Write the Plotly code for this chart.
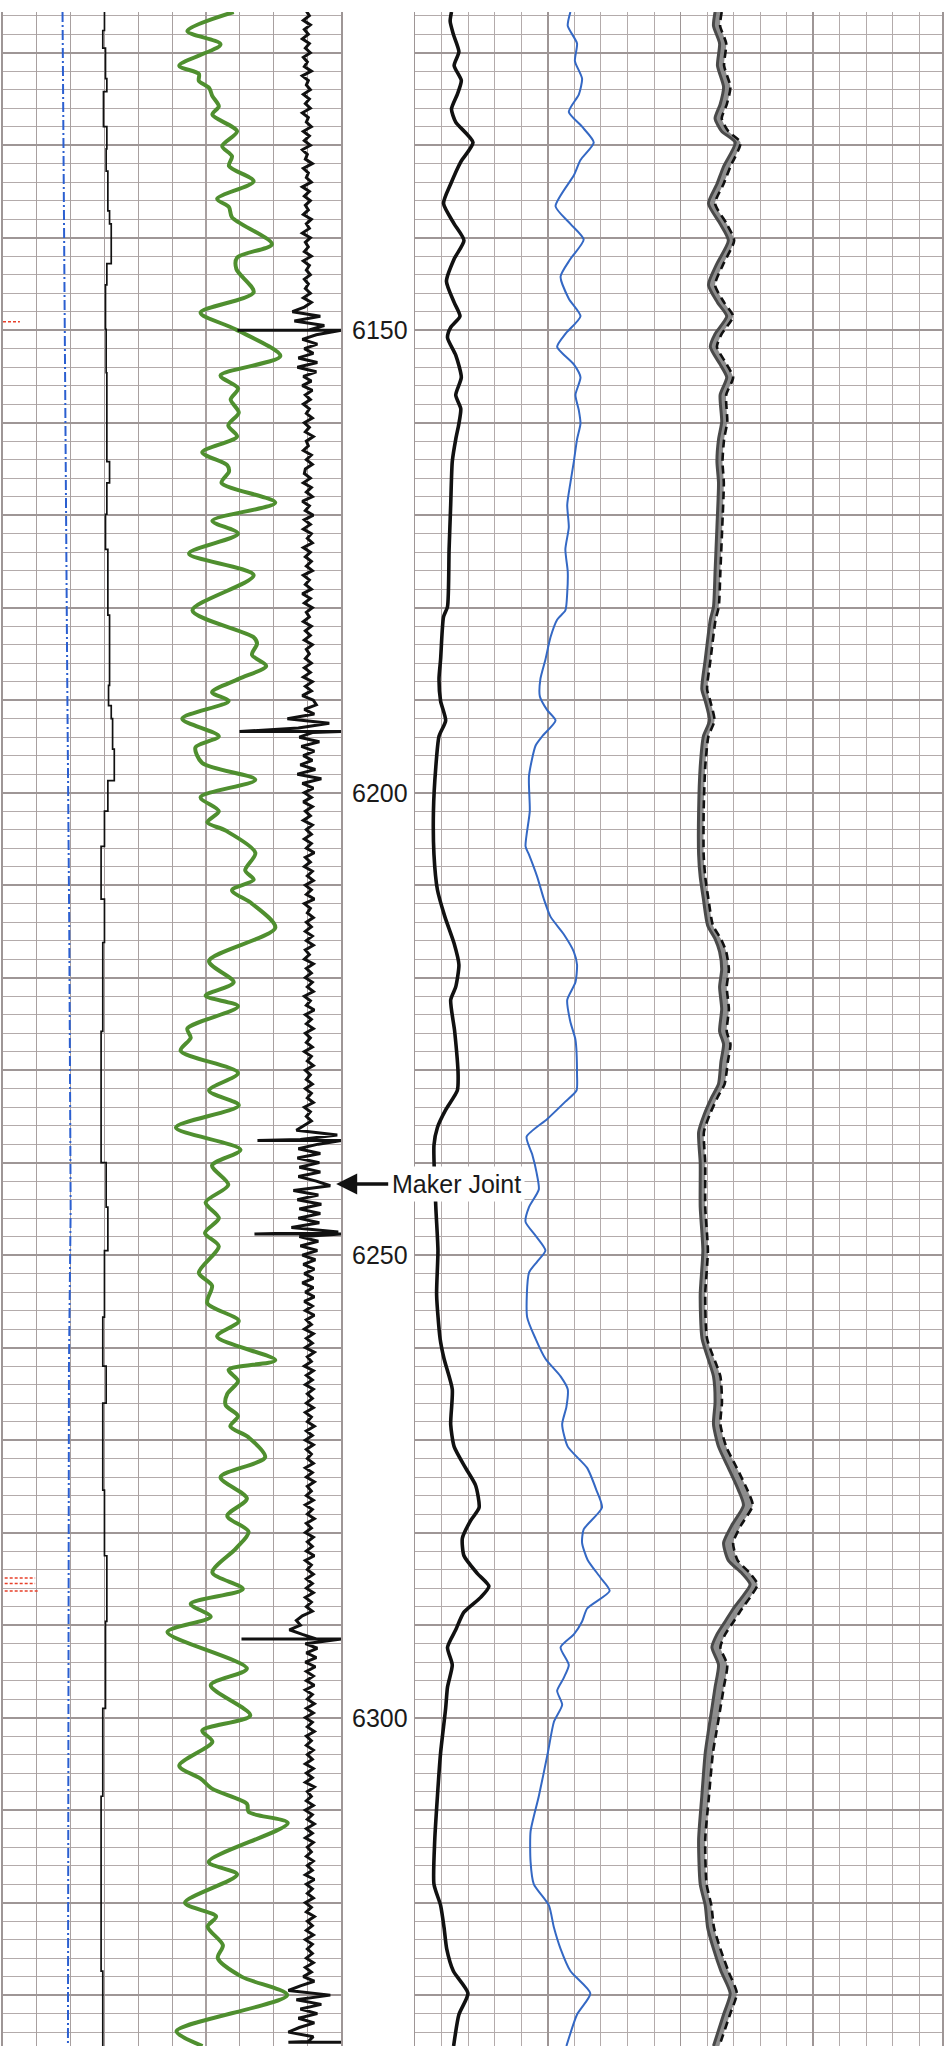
import plotly.graph_objects as go

# ---------------- depth labels ----------------
depth_labels = [6150, 6200, 6250, 6300]

# ---------------- left track (divisions 0-10) ----------------
# blue dash-dot curve
bdd_depth = [6115.6, 6140, 6160, 6188, 6215, 6245, 6262, 6300, 6335.5]
bdd_value = [1.76, 1.80, 1.84, 1.90, 1.96, 2.00, 1.95, 1.93, 1.92]

# thin black stepped curve
thin_depth = [6115.6, 6117.6, 6119.5, 6122.8, 6124.2, 6128.0, 6130.4, 6132.8, 6137.1, 6138.5,
              6142.8, 6145.1, 6149.9, 6154.6, 6164.2, 6166.5, 6169.9, 6173.7, 6180.8, 6188.4,
              6190.6, 6192.0, 6195.3, 6198.7, 6202.0, 6205.8, 6211.5, 6216.2, 6221.0, 6225.8,
              6235.3, 6240.0, 6244.8, 6249.5, 6256.7, 6262.0, 6266.0, 6275.4, 6282.5, 6289.6,
              6299.0, 6308.5, 6318.0, 6327.4, 6335.5]
thin_value = [3.00, 2.95, 3.03, 3.07, 2.97, 3.07, 3.05, 3.10, 3.15, 3.20,
              3.07, 3.03, 3.05, 3.07, 3.15, 3.07, 3.03, 3.10, 3.15, 3.12,
              3.20, 3.24, 3.29, 3.10, 3.00, 2.90, 3.00, 2.95, 2.95, 2.90,
              2.90, 3.05, 3.10, 3.00, 2.95, 3.05, 2.95, 3.00, 3.07, 3.03,
              2.95, 2.90, 2.90, 2.95, 2.96]

# green curve
gr_depth = [6115.6, 6117.65, 6119.1, 6121.4, 6122.3, 6123.05, 6123.8, 6124.7, 6125.8, 6126.7,
            6128.5, 6130.1, 6131.2, 6132.25, 6133.9, 6135.8, 6136.7, 6137.8, 6140.7, 6142.15,
            6143.4, 6145.9, 6148.1, 6149.9, 6152.8, 6154.9, 6156.3, 6157.5, 6158.9, 6160.3,
            6161.5, 6163.2, 6164.6, 6165.3, 6166.5, 6168.65, 6170.6, 6172.0, 6174.15, 6176.5,
            6180.3, 6183.2, 6183.9, 6185.1, 6186.3, 6187.7, 6189.15, 6190.1, 6192.0, 6193.9,
            6195.1, 6196.8, 6198.6, 6200.5, 6202.0, 6203.2, 6204.1, 6206.5, 6208.4, 6209.4,
            6210.55, 6212.0, 6214.6, 6218.2, 6220.5, 6221.95, 6223.1, 6225.5, 6226.5, 6227.9,
            6230.3, 6232.2, 6233.8, 6236.2, 6238.6, 6240.3, 6242.4, 6244.3, 6246.0, 6247.6,
            6249.05, 6251.9, 6253.3, 6255.2, 6257.1, 6258.8, 6261.35, 6262.4, 6263.6, 6265.0,
            6266.2, 6267.4, 6268.5, 6269.7, 6271.85, 6274.0, 6276.3, 6278.2, 6279.9, 6281.7,
            6284.3, 6286.1, 6287.7, 6289.1, 6290.75, 6294.7, 6296.5, 6299.75, 6301.4, 6302.6,
            6305.2, 6306.6, 6307.7, 6309.3, 6310.2, 6311.4, 6315.6, 6316.95, 6320.0, 6321.5,
            6322.6, 6324.6, 6326.0, 6328.0, 6330.0, 6333.9, 6335.5]
gr_value = [6.82, 5.45, 6.43, 5.21, 5.79, 5.79, 6.09, 6.19, 6.38, 6.19,
            6.92, 6.48, 6.77, 6.68, 7.41, 6.33, 6.68, 6.77, 7.95, 6.92,
            6.90, 7.41, 5.84, 6.87, 8.20, 6.43, 6.95, 6.73, 6.97, 6.66,
            6.92, 5.89, 6.63, 6.68, 6.46, 8.05, 6.19, 6.95, 5.50, 7.41,
            5.60, 7.41, 7.51, 7.36, 7.78, 6.97, 6.18, 6.67, 5.30, 6.38,
            5.69, 5.89, 7.46, 5.84, 6.38, 6.04, 6.58, 7.46, 7.16, 7.41,
            6.77, 7.36, 8.05, 6.09, 6.82, 5.99, 6.95, 5.45, 5.55, 5.25,
            6.95, 6.09, 6.97, 5.11, 7.02, 6.18, 6.66, 5.99, 6.38, 5.97,
            6.38, 5.79, 6.18, 6.04, 6.97, 6.33, 8.05, 6.67, 6.95, 6.63,
            6.58, 6.95, 6.72, 7.26, 7.75, 6.43, 7.21, 6.63, 7.26, 6.89,
            6.19, 7.09, 5.55, 6.14, 4.86, 7.21, 6.14, 7.31, 5.89, 6.19,
            5.21, 5.84, 6.19, 7.21, 7.26, 8.42, 6.08, 6.92, 5.38, 6.30,
            6.05, 6.50, 6.35, 7.05, 8.40, 5.13, 5.90]

# CCL readings (mV), every 0.5 ft from 6115.5 ft, one row per 10 ft
ccl_top = 6115.5
ccl_step = 0.5
ccl_rows = [
    [-2, 1, -5, 2, -4, 0, -6, 1, -3, 2, -5, -1, -4, 3, -6, 0, -2, 2, -5, 1],
    [-3, 2, -6, 0, -2, 3, -5, 1, -4, 2, -6, -1, -3, 4, -5, 0, -2, 3, -6, 1],
    [-4, 2, -3, 0, -5, 3, -2, 1, -6, 2, -3, 0, -4, 3, -5, 1, -2, 2, -4, 0],
    [-3, 2, -5, 3, -4, -16, 12, -14, 16, 0, 8, -6, 9, -4, 5, -10, 9, -11, 8, -5],
    [3, -6, 4, -3, 2, -5, 1, -2, 4, -4, 1, -3, 5, -2, 0, -5, 3, -2, 4, -3],
    [-4, 2, -5, 3, -2, 4, -6, 1, -3, 5, -4, 2, -5, 3, -1, 4, -5, 2, -3, 3],
    [-2, 4, -5, 1, -3, 3, -6, 2, -4, 4, -2, 1, -5, 3, -3, 2, -4, 4, -2, 1],
    [-3, 3, -4, 2, -5, 4, -3, 3, -6, 5, 8, -4, 6, -21, 21, -10, 4, -9, 11, -7],
    [6, -5, 4, -8, 7, -11, 13, -6, 5, -4, 3, -5, 4, -3, 2, -5, 4, -2, 3, -4],
    [3, -2, 6, -3, 2, -4, 4, -1, 5, -3, 3, -2, 6, -4, 2, -1, 5, -2, 3, -3],
    [4, -2, 5, -3, 1, -4, 5, -2, 3, -3, 4, -1, 5, -4, 2, -2, 6, -3, 3, -2],
    [5, -3, 2, -2, 4, -4, 3, -1, 5, -3, 2, -2, 4, -3, 3, -1, 5, -4, 2, -2],
    [3, -4, -12, 29, -8, 10, -10, 12, -11, 11, -9, 12, -10, 8, 22, -15, 10, -11, 13, -9],
    [12, -10, 11, -17, 30, -9, 10, -8, 9, -6, 7, -5, 6, -4, 5, -6, 5, -3, 6, -4],
    [4, -3, 6, -2, 3, -4, 5, -2, 4, -3, 6, -1, 3, -4, 5, -2, 4, -3, 5, -1],
    [4, -2, 5, -3, 3, -1, 6, -2, 4, -3, 5, -2, 3, -1, 5, -3, 4, -2, 6, -1],
    [3, -2, 5, -3, 4, -1, 6, -2, 3, -3, 5, -1, 4, -2, 6, -3, 3, -1, 5, -2],
    [4, -2, 5, -3, 3, -2, 4, -6, -12, -8, -19, -6, 8, -3, 9, -2, 8, -3, 7, -2],
    [5, -2, 6, -3, 4, -1, 6, -2, 5, -3, 4, -1, 6, -2, 3, -2, 5, -1, 4, -3],
    [5, -2, 4, -3, 6, -1, 3, -2, 5, -3, 4, -1, 6, -2, 4, -3, 5, -1, 3, -2],
    [5, -1, 4, -3, 6, -2, 4, -1, 5, -3, 3, -2, 6, -1, 4, -2, 5, -3, 4, -1],
    [4, -2, 5, -3, 3, -5, 6, -8, -20, 22, -12, 13, -8, 9, -10, 6, -9, -20, 5, 0],
]
# collar kicks
collar_depth = [6150.0, 6193.4, 6237.6, 6247.7, 6291.5, 6335.1]
collar_left = [-71, -69, -51, -54, -67, -20]
collar_right = [33, 33, 33, 33, 33, 33]

# red markers
red_depth = [6149.1, 6284.9, 6285.5, 6286.3]
red_from = [0.0, 0.05, 0.05, 0.05]
red_to = [0.5, 0.95, 0.95, 1.05]

# ---------------- right track (divisions) ----------------
rb_depth = [6115.6, 6116.6, 6118.0, 6119.9, 6121.4, 6123.0, 6124.5, 6126.1, 6127.5, 6129.7,
            6131.8, 6134.2, 6136.3, 6138.5, 6140.3, 6142.3, 6144.7, 6147.0, 6148.5, 6149.7,
            6150.8, 6152.7, 6155.1, 6157.0, 6158.5, 6160.1, 6161.8, 6164.2, 6168.9, 6173.7,
            6179.9, 6181.0, 6185.6, 6187.7, 6190.1, 6192.2, 6193.9, 6197.2, 6202.0, 6206.7,
            6210.5, 6213.4, 6216.3, 6218.6, 6221.0, 6222.4, 6225.8, 6230.5, 6232.2, 6234.3,
            6236.2, 6238.1, 6244.8, 6249.5, 6254.3, 6259.0, 6261.2, 6264.5, 6268.3, 6270.7,
            6273.0, 6274.9, 6277.3, 6278.7, 6280.6, 6282.5, 6284.4, 6285.8, 6287.0, 6288.6,
            6290.5, 6292.4, 6294.3, 6296.7, 6299.0, 6303.8, 6308.5, 6313.2, 6318.0, 6320.3,
            6322.7, 6325.0, 6327.4, 6329.8, 6332.1, 6335.5]
rb_value = [1.37, 1.32, 1.44, 1.65, 1.47, 1.74, 1.59, 1.37, 1.53, 2.18,
            1.72, 1.34, 1.07, 1.47, 1.84, 1.47, 1.18, 1.47, 1.69, 1.34,
            1.22, 1.53, 1.74, 1.53, 1.72, 1.65, 1.53, 1.40, 1.34, 1.28,
            1.22, 1.07, 0.96, 0.90, 0.96, 1.15, 0.90, 0.78, 0.69, 0.71,
            0.84, 1.12, 1.47, 1.65, 1.53, 1.34, 1.49, 1.62, 1.59, 1.15,
            0.84, 0.71, 0.78, 0.86, 0.81, 0.94, 1.09, 1.40, 1.34, 1.47,
            1.90, 2.28, 2.41, 2.09, 1.78, 1.84, 2.34, 2.78, 2.47, 1.84,
            1.53, 1.22, 1.40, 1.22, 1.15, 0.96, 0.84, 0.74, 0.71, 0.96,
            1.09, 1.19, 1.44, 1.99, 1.65, 1.45]

bl_depth = [6115.6, 6117.1, 6119.0, 6120.9, 6122.8, 6124.5, 6126.4, 6128.0, 6129.7, 6131.6,
            6133.25, 6136.6, 6138.5, 6140.2, 6142.3, 6144.2, 6146.6, 6148.5, 6150.4, 6151.8,
            6153.7, 6155.1, 6157.0, 6158.7, 6160.1, 6161.8, 6164.2, 6166.5, 6168.9, 6171.3,
            6173.7, 6176.1, 6178.4, 6180.3, 6181.3, 6183.2, 6185.6, 6187.7, 6189.6, 6191.05,
            6192.2, 6193.9, 6194.9, 6198.2, 6202.0, 6205.8, 6206.7, 6209.1, 6211.5, 6213.4,
            6215.3, 6217.2, 6218.6, 6220.5, 6222.4, 6224.8, 6226.7, 6230.5, 6232.2, 6233.4,
            6235.3, 6237.2, 6239.1, 6241.0, 6242.9, 6244.8, 6246.4, 6247.9, 6249.5, 6250.7,
            6251.9, 6256.7, 6259.05, 6261.2, 6263.1, 6264.5, 6266.4, 6268.3, 6270.7, 6273.0,
            6275.4, 6277.3, 6279.65, 6281.1, 6282.95, 6284.85, 6286.3, 6288.2, 6289.6, 6291.0,
            6292.4, 6294.3, 6295.7, 6297.1, 6298.6, 6300.45, 6303.8, 6308.5, 6312.3, 6315.6,
            6318.0, 6320.3, 6322.7, 6325.0, 6327.4, 6329.8, 6332.1, 6335.5]
bl_value = [5.85, 5.75, 6.10, 6.02, 6.29, 6.17, 5.79, 6.29, 6.73, 6.23,
            5.98, 5.29, 5.85, 6.35, 5.85, 5.48, 5.79, 6.23, 5.66, 5.35,
            5.98, 6.23, 6.04, 6.17, 6.23, 6.10, 5.98, 5.85, 5.73, 5.79,
            5.66, 5.75, 5.73, 5.66, 5.35, 5.10, 4.91, 4.72, 4.70, 4.97,
            5.29, 4.79, 4.54, 4.29, 4.32, 4.16, 4.29, 4.60, 4.85, 5.10,
            5.60, 5.98, 6.10, 6.04, 5.73, 5.85, 6.04, 6.10, 6.08, 5.66,
            4.97, 4.20, 4.41, 4.57, 4.66, 4.29, 4.16, 4.54, 4.91, 4.60,
            4.29, 4.22, 4.54, 4.91, 5.48, 5.75, 5.70, 5.54, 5.75, 6.48,
            6.83, 7.04, 6.35, 6.29, 6.50, 6.98, 7.33, 6.48, 6.29, 5.98,
            5.48, 5.79, 5.60, 5.35, 5.54, 5.23, 5.00, 4.66, 4.35, 4.35,
            4.47, 5.04, 5.23, 5.48, 5.85, 6.60, 6.10, 5.70]

gy_depth = [6115.6, 6117.1, 6119.0, 6121.4, 6123.7, 6125.6, 6127.1, 6128.5, 6129.7, 6132.3,
            6134.2, 6136.3, 6138.5, 6140.3, 6142.8, 6145.1, 6147.0, 6148.5, 6150.4, 6151.8,
            6153.7, 6155.1, 6157.0, 6159.9, 6161.8, 6164.2, 6166.5, 6171.3, 6176.1, 6179.9,
            6181.3, 6185.6, 6188.8, 6190.1, 6192.2, 6193.9, 6197.2, 6202.0, 6206.7, 6209.1,
            6211.5, 6214.35, 6215.8, 6217.2, 6219.1, 6221.0, 6223.4, 6225.8, 6227.2, 6229.1,
            6231.5, 6232.9, 6234.8, 6236.7, 6240.0, 6244.8, 6249.5, 6254.3, 6259.05, 6263.1,
            6265.9, 6268.3, 6270.7, 6273.0, 6275.4, 6277.05, 6279.2, 6281.1, 6283.0, 6284.4,
            6285.6, 6287.0, 6288.2, 6289.6, 6291.0, 6292.4, 6294.3, 6296.7, 6299.0, 6301.4,
            6303.8, 6308.5, 6313.2, 6318.0, 6320.3, 6322.7, 6325.0, 6327.4, 6329.8, 6332.1,
            6335.5]
gy_left = [11.30, 11.24, 11.47, 11.39, 11.62, 11.49, 11.30, 11.55, 12.06, 11.62,
           11.37, 11.05, 11.49, 11.80, 11.37, 11.05, 11.39, 11.74, 11.30, 11.12,
           11.49, 11.74, 11.49, 11.55, 11.43, 11.37, 11.43, 11.37, 11.30, 11.24,
           11.12, 10.93, 10.80, 10.93, 11.09, 10.86, 10.74, 10.68, 10.68, 10.74,
           10.86, 11.02, 11.30, 11.47, 11.55, 11.47, 11.55, 11.47, 11.62, 11.52,
           11.43, 11.18, 10.89, 10.68, 10.74, 10.74, 10.84, 10.74, 10.81, 11.24,
           11.30, 11.24, 11.43, 11.80, 12.18, 12.37, 11.93, 11.62, 11.80, 12.31,
           12.62, 12.31, 11.99, 11.68, 11.37, 11.18, 11.43, 11.30, 11.18, 11.05,
           10.93, 10.80, 10.68, 10.74, 10.93, 11.02, 11.24, 11.52, 11.87, 11.62,
           11.24]
gy_right = [11.55, 11.49, 11.72, 11.64, 11.88, 11.74, 11.55, 11.80, 12.26, 11.88,
            11.62, 11.30, 11.74, 12.02, 11.62, 11.30, 11.64, 11.98, 11.55, 11.37,
            11.74, 11.98, 11.72, 11.76, 11.64, 11.58, 11.63, 11.57, 11.50, 11.44,
            11.32, 11.13, 11.00, 11.12, 11.28, 11.05, 10.93, 10.87, 10.87, 10.93,
            11.05, 11.22, 11.52, 11.72, 11.82, 11.74, 11.82, 11.74, 11.88, 11.78,
            11.66, 11.40, 11.10, 10.88, 10.93, 10.93, 11.03, 10.93, 11.00, 11.50,
            11.56, 11.50, 11.72, 12.12, 12.52, 12.72, 12.28, 11.98, 12.15, 12.62,
            12.90, 12.62, 12.32, 12.00, 11.68, 11.50, 11.76, 11.63, 11.50, 11.36,
            11.22, 11.07, 10.93, 10.98, 11.16, 11.26, 11.50, 11.80, 12.12, 11.86,
            11.46]

# ---------------- build CCL series ----------------
ccl_vals = [v for row in ccl_rows for v in row]
pts = []
for i, v in enumerate(ccl_vals):
    pts.append((round(ccl_top + ccl_step * i, 2), 0, v))
for d, l, r in zip(collar_depth, collar_left, collar_right):
    pts.append((d, 1, l))
    pts.append((d, 2, r))
pts.sort()
ccl_y = [p[0] for p in pts]
ccl_x = [p[2] for p in pts]

red_x, red_y = [], []
for d, a, b in zip(red_depth, red_from, red_to):
    red_x += [a, b, None]
    red_y += [d, d, None]

# ---------------- figure ----------------
W, H = 944, 2046
fig = go.Figure()

fig.add_trace(go.Scatter(x=bdd_value, y=bdd_depth, mode="lines", xaxis="x", yaxis="y",
                         line=dict(color="#2b5fd0", width=2.0, dash="10px,3px,2px,3px")))
fig.add_trace(go.Scatter(x=thin_value, y=thin_depth, mode="lines", xaxis="x", yaxis="y",
                         line=dict(color="#111111", width=1.7, shape="vh")))
fig.add_trace(go.Scatter(x=gr_value, y=gr_depth, mode="lines", xaxis="x", yaxis="y",
                         line=dict(color="#4f8f2f", width=4.0, shape="spline", smoothing=0.8)))
fig.add_trace(go.Scatter(x=red_x, y=red_y, mode="lines", xaxis="x", yaxis="y",
                         line=dict(color="#e8402a", width=1.5, dash="3px,2px")))
fig.add_trace(go.Scatter(x=ccl_x, y=ccl_y, mode="lines", xaxis="x3", yaxis="y",
                         line=dict(color="#111111", width=3.0)))

fig.add_trace(go.Scatter(x=rb_value, y=rb_depth, mode="lines", xaxis="x2", yaxis="y2",
                         line=dict(color="#111111", width=3.6, shape="spline", smoothing=0.6)))
fig.add_trace(go.Scatter(x=bl_value, y=bl_depth, mode="lines", xaxis="x2", yaxis="y2",
                         line=dict(color="#3468c4", width=2.0, shape="spline", smoothing=0.6)))
fig.add_trace(go.Scatter(x=gy_left, y=gy_depth, mode="lines", xaxis="x2", yaxis="y2",
                         line=dict(color="#4a4a4a", width=3.0, shape="spline", smoothing=0.6)))
fig.add_trace(go.Scatter(x=gy_right, y=gy_depth, mode="lines", xaxis="x2", yaxis="y2",
                         fill="tonextx", fillcolor="rgba(130,130,130,0.9)",
                         line=dict(color="#111111", width=2.6, dash="8px,5px",
                                   shape="spline", smoothing=0.6)))

minor_col = "#b3abab"
major_col = "#9e9696"
yr = [6335.5, 6115.6]
ycommon = dict(range=yr, dtick=10, tick0=6100, showgrid=True, gridcolor=major_col, gridwidth=1.8,
               minor=dict(dtick=2, showgrid=True, gridcolor=minor_col, gridwidth=1),
               showticklabels=False, ticks="", zeroline=False,
               showline=True, mirror=True, linecolor=major_col, linewidth=1.5, fixedrange=True)

fig.update_layout(
    width=W, height=H,
    margin=dict(l=0, r=0, t=12, b=0),
    paper_bgcolor="white", plot_bgcolor="white",
    showlegend=False,
    xaxis=dict(domain=[3 / W, 342 / W], range=[0, 10], dtick=1, showgrid=True,
               gridcolor="#a8a0a0", gridwidth=1.2, zeroline=False, showticklabels=False,
               ticks="", anchor="y", fixedrange=True),
    xaxis3=dict(overlaying="x", range=[-306, 33], visible=False, fixedrange=True),
    xaxis2=dict(domain=[416 / W, 1], range=[0, 528 / 26.6], dtick=5, showgrid=True,
                gridcolor=major_col, gridwidth=1.8,
                minor=dict(dtick=1, showgrid=True, gridcolor=minor_col, gridwidth=1),
                zeroline=False, showticklabels=False, ticks="", anchor="y2", fixedrange=True),
    yaxis=dict(anchor="x", **ycommon),
    yaxis2=dict(anchor="x2", matches="y", **ycommon),
    font=dict(family="Liberation Sans, Arial, sans-serif"),
)

for d in depth_labels:
    fig.add_annotation(text=str(d), xref="paper", yref="y", x=351 / W, y=d,
                       xanchor="left", yanchor="middle", showarrow=False,
                       font=dict(size=25, color="#1a1a1a"))

fig.add_annotation(text="Maker Joint", xref="x", yref="y", x=9.85, y=6242.3,
                   showarrow=True, ax=120, ay=0, axref="pixel", ayref="pixel",
                   arrowhead=2, arrowsize=1.2, arrowwidth=3.5, arrowcolor="#111111",
                   bgcolor="white", borderpad=3,
                   font=dict(size=25, color="#1a1a1a"))

fig.write_html("out.html",
               config={"displayModeBar": False, "staticPlot": True},
               post_script="document.body.style.margin='0px';"
                           "document.body.style.overflow='hidden';")
